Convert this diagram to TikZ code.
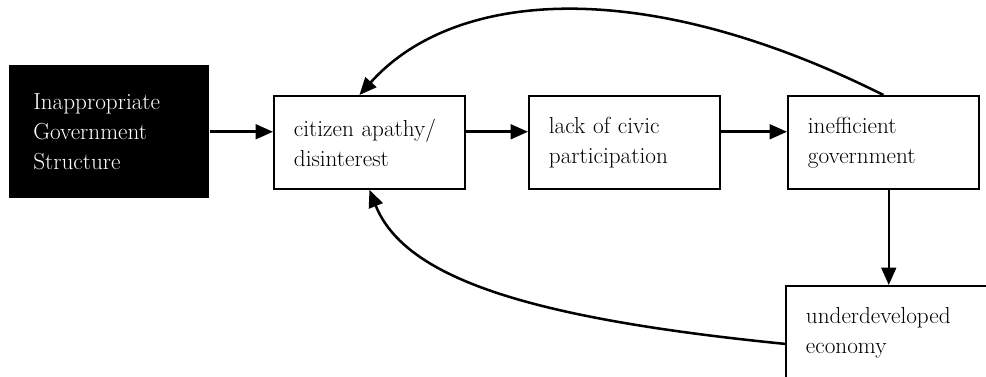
\documentclass[tikz,border=0pt]{standalone}
\usetikzlibrary{arrows.meta,calc}
\begin{document}
\begin{tikzpicture}[x=0.75pt,y=-0.75pt,
  txt/.style={font=\fontsize{17.4}{22.5}\selectfont},
  box/.style={draw=black, line width=1.4pt, fill=white, anchor=north west,
    minimum width=143.25pt, minimum height=69.75pt, inner xsep=15pt, inner ysep=0pt,
    text width=113.25pt, align=left, txt},
  blackbox/.style={fill=black, text=white, anchor=north west,
    minimum width=150pt, minimum height=99.75pt, inner xsep=18pt, inner ysep=0pt,
    text width=114pt, align=left, txt},
  conn/.style={line width=1.9pt, -{Triangle[length=13pt,width=11pt]}}]
\useasboundingbox (0,0) rectangle (986,377);
\clip (0,0) rectangle (986,377);

\node[blackbox] (blk) at (9,65) {Inappropriate\\Government\\Structure};
\node[box] (cit) at (273,95) {citizen apathy/\\disinterest};
\node[box] (lack) at (528,95) {lack of civic\\participation};
\node[box] (ineff) at (787,95) {inefficient\\government};
\node[box, minimum width=157.5pt, text width=127.5pt] (und) at (785,285) {underdeveloped\\economy};

\draw[conn] (blk.east) -- (blk.east -| cit.west);
\draw[conn] (cit.east |- blk.east) -- (lack.west |- blk.east);
\draw[conn] (lack.east |- blk.east) -- (ineff.west |- blk.east);
\draw[conn] ([xshift=4pt]ineff.south) -- ([xshift=4pt]ineff.south |- und.north);
\draw[conn] (ineff.north) .. controls +(-242,-121) and +(94,-105) .. ([xshift=-7.5pt]cit.north);
\draw[conn] ([yshift=-8.6pt]und.west) .. controls +(-250,-25) and +(36,90) .. (cit.south);
\end{tikzpicture}
\end{document}
